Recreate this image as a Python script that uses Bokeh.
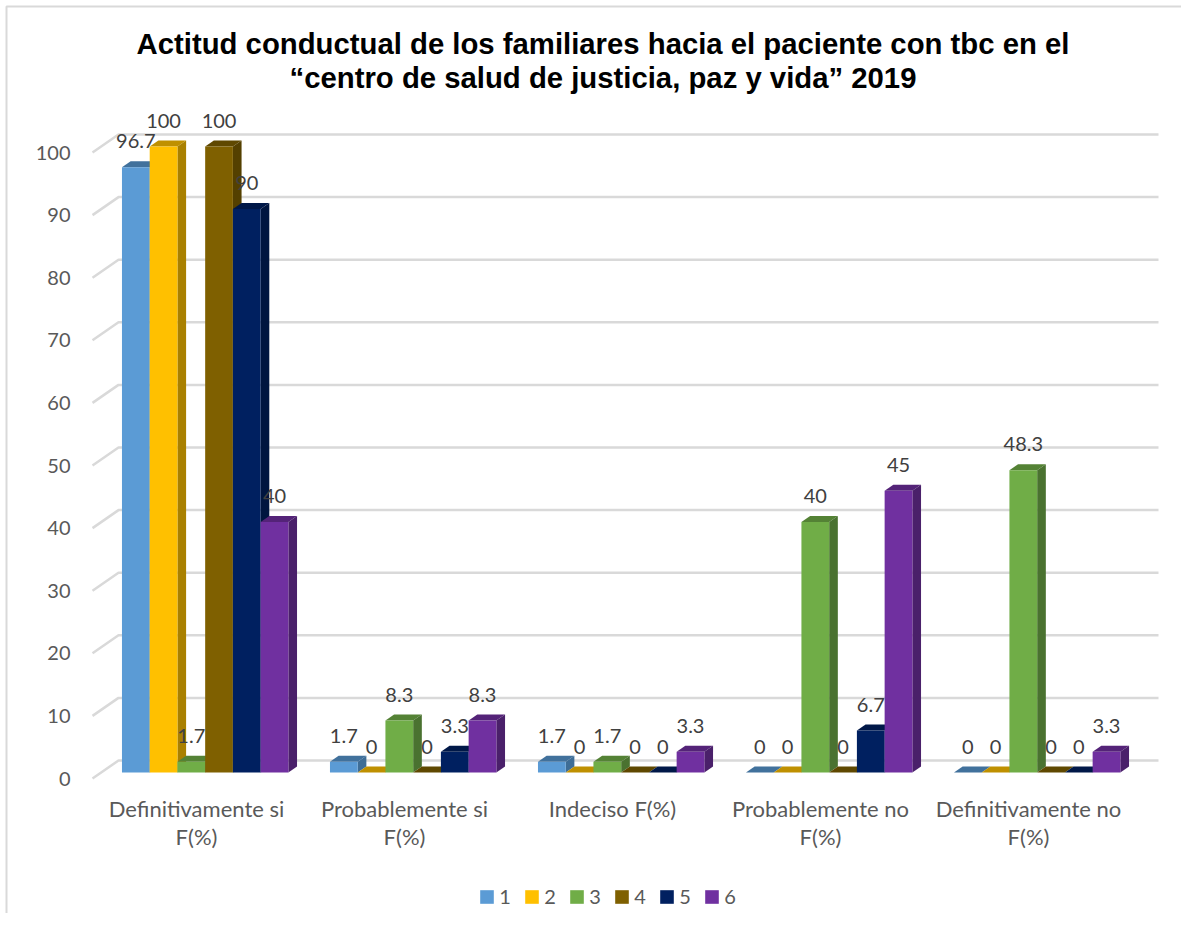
from bokeh.plotting import figure
from bokeh.models import Legend, LegendItem, FixedTicker
from bokeh.core.properties import value
from bokeh.embed import file_html
from bokeh.resources import INLINE

title_lines = ["Actitud conductual de los familiares hacia el paciente con tbc en el",
               "“centro de salud de justicia, paz y vida” 2019"]
categories = ["Definitivamente si\nF(%)", "Probablemente si\nF(%)", "Indeciso F(%)",
              "Probablemente no\nF(%)", "Definitivamente no\nF(%)"]
series_names = ["1", "2", "3", "4", "5", "6"]
s1 = [96.7, 1.7, 1.7, 0, 0]
s2 = [100, 0, 0, 0, 0]
s3 = [1.7, 8.3, 1.7, 40, 48.3]
s4 = [100, 0, 0, 0, 0]
s5 = [90, 3.3, 0, 6.7, 0]
s6 = [40, 8.3, 3.3, 45, 3.3]
series = [s1, s2, s3, s4, s5, s6]
front = ["#5B9BD5", "#FFC000", "#70AD47", "#7F6000", "#002060", "#7030A0"]
top = ["#41719C", "#BF9000", "#548235", "#5F4800", "#001848", "#542378"]
side = ["#3E6D96", "#A98000", "#4A7230", "#544000", "#00153F", "#4A206A"]
y_ticks = list(range(0, 101, 10))

# pixel layout of the scales
W, H = 1181, 913
GX0, GX_STEP = 196.0, 208.0    # x pixel of category 0, px per category (front plane)
VY0, VY_STEP = 778.0, 6.26     # y pixel of value 0, px per unit (front plane)
def X(px): return (px - GX0) / GX_STEP
def Y(py): return (VY0 - py) / VY_STEP

DX, DY = 0.125, 2.875       # wall offset from front floor edge
BAR_W = 0.8 / 6
F, B = 1 / 3, 2 / 3         # depth fractions of bar front and back faces
GRID = "#D9D9D9"
FONT = "Lato"

p = figure(width=W, height=H, output_backend="svg", toolbar_location=None,
           x_range=(X(0), X(W)), y_range=(Y(H), Y(0)),
           min_border=0,
           background_fill_color="white", border_fill_color="white", outline_line_color=None)
p.grid.visible = False

# chart-area border (left and top)
p.line([X(6), X(6), X(W)], [Y(H), Y(6), Y(6)], line_color=GRID, line_width=2)

# title
p.text([X(602.5), X(602.5)], [Y(42.5), Y(77)], text=title_lines, text_font=value("Liberation Sans"),
       text_font_size="29.3px", text_font_style="bold", text_color="#000000",
       text_align="center", text_baseline="middle")

# walls: horizontal back gridlines and diagonals
for v in y_ticks:
    p.line([-0.5, -0.5 + DX, 4.5 + DX], [v, v + DY, v + DY], line_color=GRID, line_width=2.5)

renderers = []
for k, vals in enumerate(series):
    lefts = [i - 0.4 + k * BAR_W + F * DX for i in range(5)]
    rights = [l + BAR_W for l in lefts]
    bottoms = [F * DY] * 5
    tops = [v + F * DY for v in vals]
    d = (B - F)
    top_xs = [[l, r, r + d * DX, l + d * DX] for l, r in zip(lefts, rights)]
    top_ys = [[t, t, t + d * DY, t + d * DY] for t in tops]
    side_xs = [[r, r + d * DX, r + d * DX, r] for r in rights]
    side_ys = [[b, b + d * DY, t + d * DY, t] for b, t in zip(bottoms, tops)]
    p.patches(top_xs, top_ys, fill_color=top[k], line_color=None)
    p.patches(side_xs, side_ys, fill_color=side[k], line_color=None)
    r = p.quad(left=lefts, right=rights, bottom=bottoms, top=tops, fill_color=front[k], line_color=None)
    renderers.append(r)

for k, vals in enumerate(series):
    xs = [i - 0.4 + (k + 0.5) * BAR_W + F * DX for i in range(5)]
    ys = [v + F * DY for v in vals]
    labels = [f"{v:g}" for v in vals]
    p.text(xs, ys, text=labels, text_font=value(FONT), text_font_size="20px", text_color="#404040",
           text_align="center", text_baseline="middle", y_offset=-26)

yax = p.yaxis[0]
yax.fixed_location = X(78)
yax.ticker = FixedTicker(ticks=y_ticks)
yax.axis_line_color = None
yax.major_tick_line_color = None
yax.minor_tick_line_color = None
yax.major_label_standoff = 2
yax.major_label_text_font = FONT
yax.major_label_text_font_size = "20px"
yax.major_label_text_color = "#595959"

xax = p.xaxis[0]
xax.fixed_location = Y(780)
xax.ticker = FixedTicker(ticks=list(range(5)))
xax.major_label_overrides = {i: c for i, c in enumerate(categories)}
xax.axis_line_color = None
xax.major_tick_line_color = None
xax.minor_tick_line_color = None
xax.major_label_standoff = 8
xax.major_label_text_font = FONT
xax.major_label_text_font_size = "22px"
xax.major_label_text_color = "#595959"
xax.major_label_text_line_height = 1.07

legend = Legend(items=[LegendItem(label=n, renderers=[r]) for n, r in zip(series_names, renderers)],
                orientation="horizontal", location=(478.25, H - 908.25), glyph_width=17, glyph_height=17,
                label_standoff=4, spacing=12, padding=0, margin=0, border_line_color=None,
                background_fill_alpha=0, label_text_font=FONT, label_text_font_size="20px",
                label_text_color="#595959", label_height=17, label_width=12)
p.add_layout(legend, "center")

open("out.html", "w").write(file_html(p, INLINE))
